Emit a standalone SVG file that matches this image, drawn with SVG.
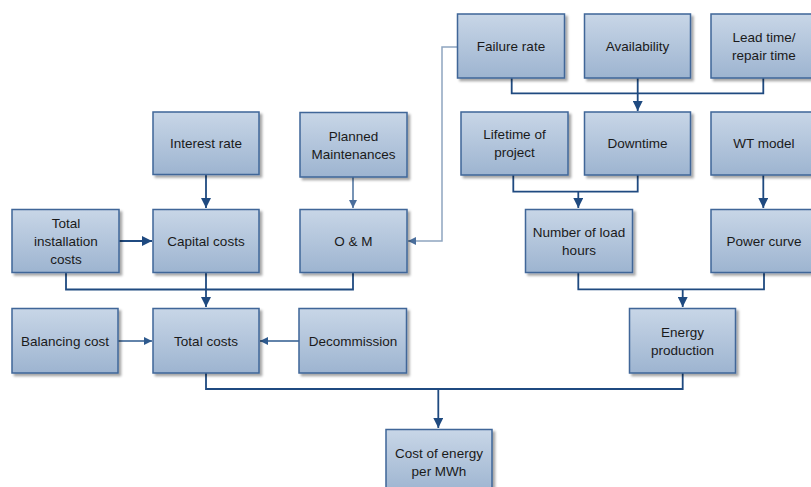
<svg xmlns="http://www.w3.org/2000/svg" width="811" height="487" viewBox="0 0 811 487">
<defs>
<linearGradient id="g" x1="0" y1="0" x2="0" y2="1">
<stop offset="0" stop-color="#c8d6e7"/>
<stop offset="1" stop-color="#9db4d0"/>
</linearGradient>
<filter id="sh" x="-10%" y="-10%" width="130%" height="130%">
<feDropShadow dx="2.5" dy="2.5" stdDeviation="1" flood-color="#000" flood-opacity="0.35"/>
</filter>
<marker id="a" viewBox="0 0 10 10" refX="10" refY="5" markerWidth="10" markerHeight="10" markerUnits="userSpaceOnUse" orient="auto">
<path d="M0,0 L10,5 L0,10 z" fill="#1f4a80"/>
</marker>
<marker id="a2" viewBox="0 0 10 10" refX="10" refY="5" markerWidth="8" markerHeight="8" markerUnits="userSpaceOnUse" orient="auto">
<path d="M0,0 L10,5 L0,10 z" fill="#2e5a8e"/>
</marker>
<marker id="a3" viewBox="0 0 10 10" refX="10" refY="5" markerWidth="8" markerHeight="8" markerUnits="userSpaceOnUse" orient="auto">
<path d="M0,0 L10,5 L0,10 z" fill="#4a6e9c"/>
</marker>
</defs>
<style>
.b{fill:url(#g);stroke:#3f6698;stroke-width:1.5;filter:url(#sh)}
.t{font-family:"Liberation Sans",Arial,sans-serif;font-size:13.5px;fill:#1a1a1a;text-anchor:middle}
.c{fill:none;stroke:#1f4a80;stroke-width:1.8}
.c2{fill:none;stroke:#2e5a8e;stroke-width:1.3}
.c3{fill:none;stroke:#8fa5c0;stroke-width:1.5}
</style>
<g id="connectors">
<path class="c" d="M206,174 V208" marker-end="url(#a)"/>
<path class="c" d="M119,241 H152" marker-end="url(#a)"/>
<path class="c2" d="M353,177 V208" stroke="#4a6e9c" marker-end="url(#a3)"/>
<path class="c3" d="M457,47 H442 V241 H408" marker-end="url(#a3)"/>
<path class="c" d="M66,273 V289.5 H353 V273"/>
<path class="c" d="M206,273 V307" marker-end="url(#a)"/>
<path class="c2" d="M118,341 H152" marker-end="url(#a2)"/>
<path class="c2" d="M299,341 H260" marker-end="url(#a2)"/>
<path class="c" d="M511.7,78 V93.3 H763.3 V78"/>
<path class="c" d="M637.7,78 V111" marker-end="url(#a)"/>
<path class="c" d="M513.3,175 V191.7 H637.7 V175"/>
<path class="c" d="M578.3,191.7 V208" marker-end="url(#a)"/>
<path class="c" d="M763.3,175 V208" marker-end="url(#a)"/>
<path class="c" d="M578.3,273 V289.3 H764 V273"/>
<path class="c" d="M682.7,289.3 V307" marker-end="url(#a)"/>
<path class="c" d="M206,373 V389 H682.7 V373"/>
<path class="c" d="M438.3,389 V428" marker-end="url(#a)"/>
</g>
<g id="failure-rate"><rect class="b" x="457.5" y="14" width="107" height="64"/><text class="t" x="511" y="50.5">Failure rate</text></g>
<g id="availability"><rect class="b" x="584.5" y="14" width="106" height="64"/><text class="t" x="637.5" y="50.5">Availability</text></g>
<g id="lead-time"><rect class="b" x="711" y="14" width="107" height="64"/><text class="t" x="764" y="41.5">Lead time/</text><text class="t" x="764" y="59.5">repair time</text></g>
<g id="interest-rate"><rect class="b" x="153" y="112" width="106" height="62.5"/><text class="t" x="206" y="148">Interest rate</text></g>
<g id="planned"><rect class="b" x="300" y="112.5" width="107" height="64.5"/><text class="t" x="353.5" y="140.5">Planned</text><text class="t" x="353.5" y="158.5">Maintenances</text></g>
<g id="lifetime"><rect class="b" x="461" y="112" width="107" height="63"/><text class="t" x="514.5" y="138.5">Lifetime of</text><text class="t" x="514.5" y="156.5">project</text></g>
<g id="downtime"><rect class="b" x="584.5" y="112" width="106" height="63"/><text class="t" x="637.5" y="148">Downtime</text></g>
<g id="wt-model"><rect class="b" x="711" y="112" width="107" height="63"/><text class="t" x="764" y="148">WT model</text></g>
<g id="total-installation"><rect class="b" x="12" y="209.5" width="107" height="63"/><text class="t" x="66" y="228">Total</text><text class="t" x="66" y="246">installation</text><text class="t" x="66" y="264">costs</text></g>
<g id="capital-costs"><rect class="b" x="153" y="209.5" width="106" height="63"/><text class="t" x="206" y="246">Capital costs</text></g>
<g id="om"><rect class="b" x="300" y="209.5" width="107" height="63"/><text class="t" x="353.5" y="246">O &amp; M</text></g>
<g id="load-hours"><rect class="b" x="525.5" y="209.5" width="107" height="63"/><text class="t" x="579" y="237">Number of load</text><text class="t" x="579" y="255">hours</text></g>
<g id="power-curve"><rect class="b" x="711" y="209.5" width="107" height="63"/><text class="t" x="764" y="246">Power curve</text></g>
<g id="balancing"><rect class="b" x="12" y="308.5" width="106" height="64.5"/><text class="t" x="65" y="346">Balancing cost</text></g>
<g id="total-costs"><rect class="b" x="153" y="308.5" width="106" height="64.5"/><text class="t" x="206" y="346">Total costs</text></g>
<g id="decommission"><rect class="b" x="299" y="308.5" width="107.5" height="64.5"/><text class="t" x="353" y="346">Decommission</text></g>
<g id="energy-production"><rect class="b" x="629.5" y="308.5" width="106" height="64.5"/><text class="t" x="682.5" y="337">Energy</text><text class="t" x="682.5" y="355">production</text></g>
<g id="cost-of-energy"><rect class="b" x="386" y="429.5" width="106" height="64"/><text class="t" x="439" y="457.5">Cost of energy</text><text class="t" x="439" y="475.5">per MWh</text></g>
</svg>
